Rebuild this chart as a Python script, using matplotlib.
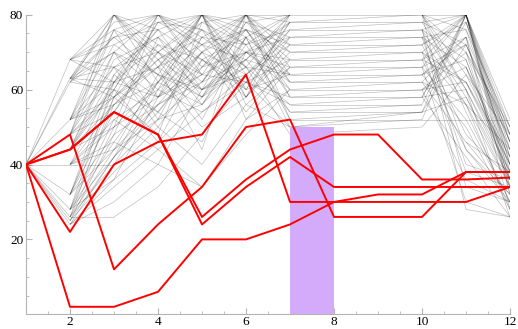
import matplotlib.pyplot as plt
from matplotlib.ticker import MultipleLocator
from matplotlib.collections import LineCollection

## Donnees

# chemins rouges (une valeur par abscisse 1..12)
xs = [1, 2, 3, 4, 5, 6, 7, 8, 9, 10, 11, 12]
rouge1 = [40, 2, 2, 6, 20, 20, 24, 30, 32, 32, 38, 38]
rouge2 = [40, 22, 40, 46, 48, 64, 30, 30, 30, 30, 30, 34]
rouge3 = [40, 48, 12, 24, 34, 50, 52, 26, 26, 26, 38, 38]
rouge4 = [40, 44, 54, 48, 24, 34, 42, 34, 34, 34, 34, 34]
rouge5 = [40, 44, 54, 48, 26, 36, 44, 48, 48, 36, 36, 36.5]

# chemins gris (pas de points en 8 et 9)
xg = [1, 2, 3, 4, 5, 6, 7, 10, 11, 12]
gris = [
    [40, 68, 80, 62, 80, 58, 80, 80, 80, 50],
    [40, 68, 74, 80, 66, 80, 62, 64, 72, 44],
    [40, 63, 80, 70, 56, 72, 54, 56, 80, 46],
    [40, 63, 58, 78, 80, 64, 76, 78, 60, 38],
    [40, 62, 70, 52, 74, 80, 70, 72, 48, 36],
    [40, 52, 80, 76, 60, 68, 80, 80, 76, 42],
    [40, 52, 62, 66, 80, 56, 66, 68, 80, 52],
    [40, 48, 66, 58, 70, 76, 58, 60, 66, 40],
    [40, 48, 54, 72, 62, 80, 72, 74, 56, 34],
    [40, 44, 60, 46, 68, 62, 50, 52, 80, 48],
    [40, 44, 50, 80, 72, 60, 78, 80, 70, 44],
    [40, 40, 56, 68, 52, 74, 64, 66, 52, 30],
    [40, 40, 46, 62, 76, 66, 56, 58, 78, 40],
    [40, 32, 64, 54, 46, 70, 74, 76, 44, 32],
    [40, 32, 48, 74, 58, 78, 68, 70, 62, 38],
    [40, 28, 52, 60, 80, 52, 60, 62, 74, 46],
    [40, 28, 42, 56, 64, 80, 52, 54, 58, 34],
    [40, 26, 58, 48, 78, 72, 80, 80, 80, 42],
    [40, 26, 44, 64, 50, 58, 74, 76, 68, 36],
    [40, 25, 38, 50, 66, 76, 62, 64, 50, 28],
    [40, 24, 34, 44, 54, 64, 72, 74, 76, 50],
    [40, 24, 30, 40, 60, 66, 48, 50, 64, 40],
    [40, 26, 26, 34, 48, 62, 56, 58, 42, 26],
    [40, 63, 78, 80, 70, 54, 68, 70, 80, 44],
    [40, 68, 62, 66, 44, 80, 78, 78, 72, 48],
    [40, 52, 72, 78, 76, 70, 60, 62, 46, 32],
    [40, 48, 76, 58, 80, 60, 76, 76, 80, 38],
    [40, 44, 68, 74, 64, 80, 66, 68, 62, 42],
    [40, 40, 40, 52, 56, 68, 54, 56, 80, 36],
    [40, 62, 60, 80, 74, 72, 80, 80, 54, 30],
    [40, 63, 66, 70, 78, 80, 58, 60, 70, 50],
    [40, 68, 80, 72, 62, 76, 70, 72, 78, 46],
    [40, 52, 56, 62, 72, 60, 64, 66, 80, 40],
    [40, 48, 60, 54, 68, 74, 52, 52, 52, 52],
    [40, 44, 70, 64, 80, 78, 74, 74, 66, 36],
    [40, 40, 50, 58, 66, 70, 62, 62, 56, 44],
    [40, 32, 54, 70, 60, 64, 76, 78, 80, 34],
    [40, 28, 46, 40, 34, 52, 66, 68, 74, 28],
    [40, 24, 36, 46, 58, 74, 80, 80, 64, 48],
    [40, 26, 40, 60, 70, 80, 70, 70, 80, 32],
    [40, 62, 74, 76, 80, 66, 56, 58, 60, 26],
    [40, 63, 70, 60, 54, 62, 78, 80, 76, 42],
    [40, 68, 76, 80, 72, 68, 64, 64, 68, 38],
    [40, 52, 66, 50, 40, 56, 50, 54, 72, 46],
    [40, 48, 80, 66, 58, 70, 68, 68, 44, 30],
    [40, 44, 62, 80, 76, 58, 72, 72, 80, 52],
    [40, 40, 52, 44, 34, 48, 60, 60, 62, 40],
    [40, 32, 58, 66, 78, 72, 54, 54, 80, 44],
    [40, 28, 62, 76, 68, 60, 76, 76, 58, 36],
    [40, 25, 48, 56, 62, 78, 80, 80, 70, 34],
    [40, 68, 72, 64, 58, 66, 80, 80, 34, 30],
    [40, 63, 62, 58, 64, 70, 66, 66, 30, 26],
    [40, 52, 58, 70, 80, 76, 72, 74, 40, 36],
    [40, 48, 70, 80, 64, 62, 58, 58, 80, 48],
    [40, 44, 56, 66, 72, 80, 80, 80, 80, 40],
    [40, 40, 62, 72, 68, 58, 70, 70, 38, 34],
    [40, 32, 44, 52, 62, 68, 78, 78, 80, 44],
    [40, 28, 36, 58, 74, 80, 62, 62, 46, 38],
    [40, 26, 50, 62, 56, 74, 50, 52, 80, 50],
    [40, 24, 42, 54, 70, 64, 74, 76, 28, 26],
    [40, 62, 80, 68, 76, 70, 60, 60, 66, 42],
    [40, 68, 66, 74, 80, 72, 76, 76, 80, 46],
    [40, 63, 74, 64, 60, 80, 64, 64, 74, 32],
    [40, 52, 76, 70, 64, 62, 68, 70, 56, 28],
    [40, 48, 58, 68, 74, 66, 56, 56, 80, 42],
    [40, 44, 64, 76, 80, 74, 80, 80, 60, 36],
    [40, 40, 44, 56, 70, 80, 72, 72, 78, 48],
    [40, 32, 60, 78, 72, 76, 60, 60, 36, 30],
    [40, 28, 56, 68, 60, 70, 78, 78, 80, 38],
    [40, 25, 42, 62, 80, 66, 64, 66, 72, 44],
]

# bande violette
bande_x = [7, 8]
bande_haut = 50

## Segments gris (chaque segment une seule fois)

segments = set()
for g in gris:
    for k in range(len(xg) - 1):
        segments.add(((xg[k], g[k]), (xg[k + 1], g[k + 1])))
segments = sorted(segments)

## Affichage

plt.close("all")
fig = plt.figure(figsize=(5.18, 3.29), dpi=100)
ax = fig.add_axes([0.0502, 0.0447, 0.9344, 0.9106])

ax.add_collection(LineCollection(segments, colors='black', linewidths=0.5,
                                 alpha=0.25))

ax.fill_between(bande_x, 0, bande_haut, color='#d4aafa', lw=0, zorder=3)

for r in [rouge1, rouge2, rouge3, rouge4, rouge5]:
    ax.plot(xs, r, color='red', lw=1.4, zorder=4)

ax.set_xlim(1, 12)
ax.set_ylim(0, 80)
ax.xaxis.set_major_locator(MultipleLocator(2))
ax.xaxis.set_minor_locator(MultipleLocator(0.5))
ax.yaxis.set_major_locator(MultipleLocator(20))
ax.yaxis.set_minor_locator(MultipleLocator(5))
ax.set_yticks([20, 40, 60, 80])

for s in ['top', 'right']:
    ax.spines[s].set_visible(False)
for s in ['left', 'bottom']:
    ax.spines[s].set_color('#b4b4b4')
    ax.spines[s].set_linewidth(0.8)

ax.tick_params(which='both', direction='in', color='#b4b4b4',
               labelsize=9.5, labelfontfamily='Liberation Serif')
ax.tick_params(axis='x', pad=1)
ax.tick_params(axis='y', pad=2)
ax.tick_params(which='major', length=4, width=0.8)
ax.tick_params(which='minor', length=2, width=0.6)

plt.savefig("out.png", dpi=100)
